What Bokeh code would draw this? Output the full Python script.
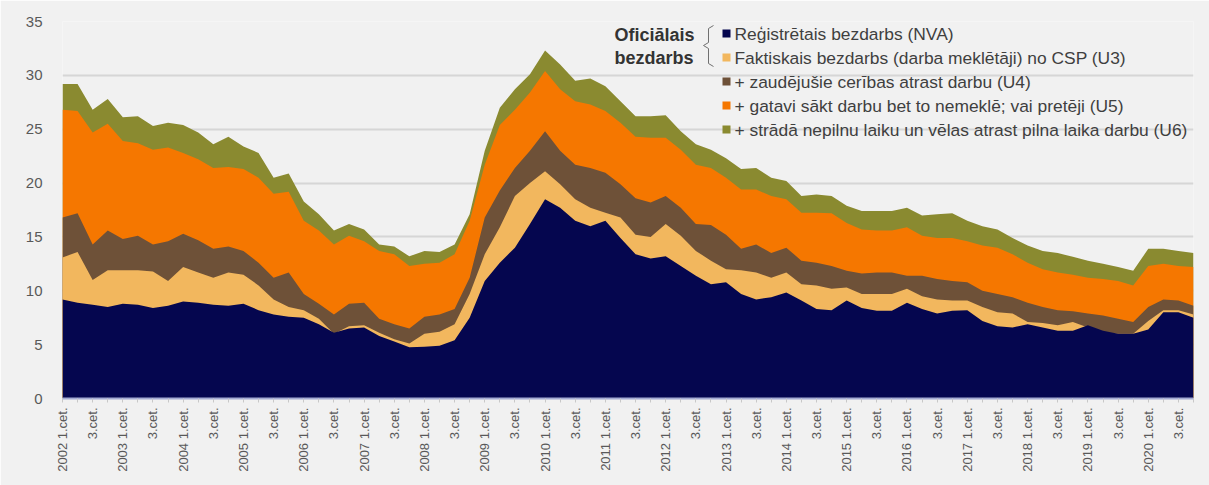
import math
from bokeh.plotting import figure
from bokeh.models import Range1d, FixedTicker, Label
from bokeh.embed import file_html
from bokeh.resources import INLINE

# ---------------- data (quarterly, 2002 Q1 .. 2020 Q4) ----------------
years = list(range(2002, 2021))
quarters = [f"{y} {q}.cet." for y in years for q in (1, 2, 3, 4)]

nva = [9.2, 8.9, 8.7, 8.5, 8.8, 8.7, 8.4, 8.6, 9.0, 8.9, 8.7, 8.6, 8.8, 8.2, 7.8, 7.6,
       7.5, 6.9, 6.1, 6.5, 6.6, 5.8, 5.3, 4.75, 4.8, 4.9, 5.4, 7.5, 10.9, 12.6, 14.0, 16.2,
       18.5, 17.7, 16.5, 16.0, 16.5, 14.9, 13.4, 13.0, 13.2, 12.3, 11.4, 10.6, 10.8, 9.7,
       9.2, 9.4, 9.85, 9.1, 8.3, 8.2, 9.1, 8.4, 8.15, 8.15, 8.9, 8.3, 7.9, 8.15, 8.2,
       7.2, 6.7, 6.6, 6.9, 6.6, 6.3, 6.3, 6.8, 6.3, 6.0, 6.0, 6.4, 8.0, 8.0, 7.5]
u3 = [13.1, 13.6, 11.0, 11.9, 11.9, 11.9, 11.8, 10.9, 12.2, 11.7, 11.2, 11.7, 11.5, 10.5, 9.2, 8.5,
      8.2, 7.4, 6.0, 6.7, 6.8, 6.1, 5.5, 5.1, 6.0, 6.2, 6.9, 9.7, 13.4, 15.9, 18.8, 20.0,
      21.1, 19.9, 18.5, 17.7, 17.25, 16.8, 15.2, 15.0, 16.2, 15.1, 13.7, 12.8, 12.0, 11.9,
      11.7, 11.2, 11.7, 10.6, 10.5, 10.2, 10.3, 9.7, 9.7, 9.7, 10.2, 9.5, 9.2, 9.1, 9.1,
      8.5, 8.0, 7.9, 7.1, 7.0, 6.8, 7.1, 6.6, 6.1, 6.0, 6.0, 7.2, 8.2, 8.2, 7.8]
u4 = [16.8, 17.2, 14.3, 15.6, 14.8, 15.1, 14.3, 14.6, 15.3, 14.7, 13.9, 14.1, 13.7, 12.6, 11.2, 11.7,
      9.7, 8.8, 7.8, 8.8, 8.9, 7.4, 6.9, 6.5, 7.6, 7.8, 8.3, 11.2, 16.8, 19.3, 21.4, 23.0,
      24.8, 23.0, 21.7, 21.4, 20.95, 19.9, 18.6, 18.2, 18.8, 17.7, 16.2, 16.1, 15.2, 13.9,
      14.3, 13.5, 14.0, 12.8, 12.6, 12.3, 11.85, 11.6, 11.7, 11.7, 11.4, 11.4, 11.1, 10.9, 10.8,
      10.0, 9.7, 9.4, 8.9, 8.5, 8.2, 8.1, 7.9, 7.7, 7.4, 7.1, 8.5, 9.2, 9.1, 8.6]
u5 = [26.8, 26.7, 24.7, 25.5, 23.9, 23.7, 23.1, 23.3, 22.8, 22.2, 21.4, 21.5, 21.3, 20.5, 19.0, 19.2,
      16.5, 15.6, 14.3, 15.1, 14.6, 13.7, 13.4, 12.3, 12.5, 12.6, 13.4, 16.5, 21.7, 25.4, 26.8, 28.4,
      30.4, 28.7, 27.6, 27.3, 26.7, 25.6, 24.3, 24.2, 24.2, 23.1, 21.7, 21.4, 20.5, 19.4,
      19.4, 18.8, 18.5, 17.25, 17.25, 17.2, 16.3, 15.7, 15.6, 15.6, 15.9, 15.1, 14.9, 14.9, 14.6,
      14.2, 14.0, 13.4, 12.6, 12.0, 11.7, 11.5, 11.2, 11.1, 10.9, 10.5, 12.3, 12.5, 12.3, 12.2]
u6 = [29.2, 29.2, 26.8, 27.8, 26.1, 26.2, 25.3, 25.6, 25.4, 24.7, 23.6, 24.3, 23.4, 22.8, 20.5, 20.9,
      18.3, 17.1, 15.6, 16.2, 15.7, 14.3, 14.1, 13.2, 13.7, 13.6, 14.3, 17.1, 23.0, 27.0, 28.7, 30.1,
      32.3, 31.0, 29.5, 29.7, 29.0, 27.6, 26.2, 26.2, 26.3, 24.8, 23.6, 23.1, 22.3, 21.3,
      21.4, 20.5, 20.2, 18.8, 18.95, 18.8, 17.9, 17.4, 17.4, 17.4, 17.7, 17.0, 17.1, 17.2, 16.5,
      16.0, 15.7, 14.9, 14.2, 13.7, 13.5, 13.15, 12.8, 12.5, 12.2, 11.85, 13.9, 13.9, 13.7, 13.5]

tick_labels = [f"{y} 1.cet." if q == 1 else "3.cet." for y in years for q in (1, 3)]

series_names = [
    "Reģistrētais bezdarbs (NVA)",
    "Faktiskais bezdarbs (darba meklētāji) no CSP (U3)",
    "+ zaudējušie cerības atrast darbu (U4)",
    "+ gatavi sākt darbu bet to nemeklē; vai pretēji (U5)",
    "+ strādā nepilnu laiku un vēlas atrast pilna laika darbu (U6)",
]
group_label = ["Oficiālais", "bezdarbs"]
colors = ["#05064f", "#f2b75e", "#6e5138", "#f57700", "#8a8a30"]

# ---------------- figure ----------------
BG = "#f1f1f1"
n = len(quarters)
x = list(range(n))

W, H = 1209, 485
LB, TB = 62, 21
FW, FH = 1131, 377
RB, BB = W - LB - FW, H - TB - FH
p = figure(width=W, height=H, output_backend="svg", toolbar_location=None,
           x_range=Range1d(0, n - 1), y_range=Range1d(0, 35),
           min_border_left=LB, min_border_right=RB, min_border_top=TB, min_border_bottom=BB)
p.background_fill_color = BG
p.border_fill_color = BG
p.outline_line_color = None

# areas drawn back to front (totals overlap)
for vals, col in [(u6, colors[4]), (u5, colors[3]), (u4, colors[2]), (u3, colors[1]), (nva, colors[0])]:
    p.varea(x=x, y1=0, y2=vals, fill_color=col, fill_alpha=1.0)

# grid
p.xgrid.grid_line_color = None
p.ygrid.ticker = FixedTicker(ticks=[5, 10, 15, 20, 25, 30, 35])
p.ygrid.grid_line_color = "#d6d6d6"
p.ygrid.grid_line_width = 2

# y axis
p.yaxis.ticker = FixedTicker(ticks=[0, 5, 10, 15, 20, 25, 30, 35])
p.yaxis.axis_line_color = None
p.yaxis.major_tick_line_color = None
p.yaxis.minor_tick_line_color = None
p.yaxis.major_label_text_font = "Liberation Sans"
p.yaxis.major_label_text_font_size = "15px"
p.yaxis.major_label_text_color = "#595959"
p.yaxis.major_label_standoff = 14

# x axis
tick_pos = list(range(0, n, 2))
p.xaxis.ticker = FixedTicker(ticks=tick_pos, minor_ticks=list(range(1, n, 2)))
p.xaxis.major_label_overrides = {t: lab for t, lab in zip(tick_pos, tick_labels)}
p.xaxis.major_label_orientation = math.pi / 2
p.xaxis.axis_line_color = "#a4aad2"
p.xaxis.axis_line_width = 2
p.xaxis.major_tick_line_color = "#c8c8c8"
p.xaxis.minor_tick_line_color = "#c8c8c8"
p.xaxis.major_tick_out = 4
p.xaxis.major_tick_in = 0
p.xaxis.minor_tick_out = 4
p.xaxis.minor_tick_in = 0
p.xaxis.major_label_text_font = "Liberation Sans"
p.xaxis.major_label_text_font_size = "13px"
p.xaxis.major_label_text_color = "#595959"
p.xaxis.major_label_standoff = 5

# ---------------- legend (screen-pixel helpers -> data coords) ----------------
FX0, FY0 = LB, TB + FH      # pixel position of (0, 0) on the canvas
SX = FW / (n - 1)           # px per quarter
SY = FH / 35                # px per unit

def dx(px):
    return (px - FX0) / SX

def dy(py):
    return (FY0 - py) / SY

row_y = [33, 57, 81, 105, 129]
mk_x = 726
txt_x = 734
p.scatter(x=[dx(mk_x)] * 5, y=[dy(v) for v in row_y], marker="square", size=8,
          fill_color=colors, line_color=None)
for name, yy in zip(series_names, row_y):
    p.add_layout(Label(x=dx(txt_x), y=dy(yy), text=name, text_font="Liberation Sans",
                       text_font_size="17.4px", text_color="#3f3f3f",
                       text_baseline="middle", text_align="left"))
for txt, yy in zip(group_label, [34, 57]):
    p.add_layout(Label(x=dx(614), y=dy(yy), text=txt, text_font="Liberation Sans",
                       text_font_size="18px", text_font_style="bold", text_color="#333333",
                       text_baseline="middle", text_align="left"))
bx = [713, 708, 708, 703, 708, 708, 713]
by = [25, 28, 42, 45, 48, 63, 66]
p.line(x=[dx(v) for v in bx], y=[dy(v) for v in by], line_color="#707070", line_width=1)

open("out.html", "w").write(file_html(p, INLINE))
